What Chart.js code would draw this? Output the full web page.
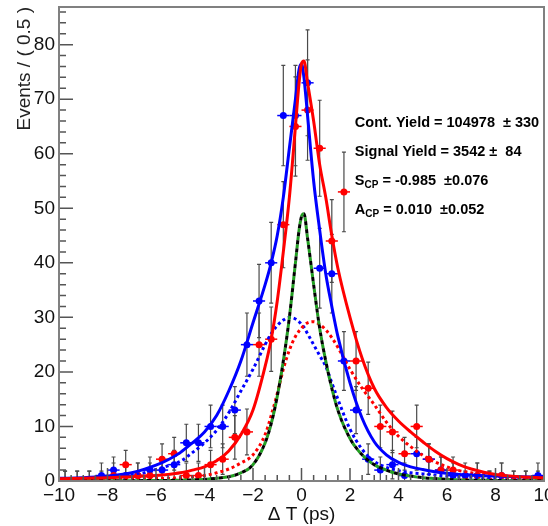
<!DOCTYPE html>
<html lang="en">
<head>
  <meta charset="UTF-8" />
  <title>Delta T fit</title>
  <style>
    * { margin: 0; padding: 0; box-sizing: border-box; }
    body { background: #fff; width: 548px; height: 526px; overflow: hidden; }
    #plot { display: block; }
  </style>
  <script src="https://cdn.jsdelivr.net/npm/chart.js"></script>
</head>
<body>
  <canvas id="plot" width="548" height="526"></canvas>

  <script>
    // binned data, bin width 0.5 ps
    const binWidth = 0.5;
    const binCenters = [-9.75, -9.25, -8.75, -8.25, -7.75, -7.25, -6.75, -6.25, -5.75, -5.25,
                        -4.75, -4.25, -3.75, -3.25, -2.75, -2.25, -1.75, -1.25, -0.75, -0.25,
                         0.25,  0.75,  1.25,  1.75,  2.25,  2.75,  3.25,  3.75,  4.25,  4.75,
                         5.25,  5.75,  6.25,  6.75,  7.25,  7.75,  8.25,  8.75,  9.25,  9.75];
    const blueCounts = [0, 0, 0, 1, 2, 1, 1, 2, 2, 3,
                        7, 7, 10, 10, 13, 25, 33, 40, 67, 67,
                        73, 39, 38, 22, 13, 4, 2, 3, 1, 5,
                        4, 2, 1, 1, 1, 0, 1, 0, 0, 1];
    const blueErrors = [1.8, 1.8, 1.8, 2.3, 2.4, 2.3, 2.3, 2.4, 2.4, 2.6,
                        3.4, 3.4, 3.9, 3.9, 4.3, 5.8, 6.7, 7.4, 9.2, 9.2,
                        9.7, 7.3, 7.2, 5.4, 4.3, 2.8, 2.4, 2.6, 2.3, 3.0,
                        2.8, 2.4, 2.3, 2.3, 2.3, 1.8, 2.3, 1.8, 1.8, 2.3];
    const redCounts = [0, 0, 0, 0, 1, 3, 1, 1, 4, 5,
                       1, 1, 3, 4, 8, 9, 25, 26, 47, 65,
                       68, 61, 44, 53, 22, 17, 10, 9, 5, 10,
                       4, 2, 2, 0, 1, 0, 1, 0, 0, 0];
    const redErrors = [1.8, 1.8, 1.8, 1.8, 2.3, 2.6, 2.3, 2.3, 2.8, 3.0,
                       2.3, 2.3, 2.6, 2.8, 4.0, 4.2, 5.8, 5.9, 7.9, 9.1,
                       9.2, 8.8, 7.6, 7.3, 5.4, 4.8, 3.9, 3.8, 3.0, 3.9,
                       2.8, 2.4, 2.4, 1.8, 2.3, 1.8, 2.3, 1.8, 1.8, 1.8];

    // fit curves
    const curveX = [-10, -9, -8, -7, -6, -5.5, -5, -4.5, -4, -3.5, -3, -2.5, -2, -1.5, -1.25, -1, -0.75, -0.5, -0.25, -0.1,
                    0, 0.1, 0.25, 0.5, 0.75, 1, 1.25, 1.5, 2, 2.5, 3, 3.5, 4, 4.5, 5, 5.5, 6, 6.5, 7, 8, 9, 10];
    const blueFit = [0.5, 0.6, 0.9, 1.5, 2.9, 3.9, 5.2, 7, 9, 12, 16.5, 22, 29, 36, 40, 45, 52, 61, 70, 75.5,
                     76.5, 74, 67, 55, 46, 38, 32, 26.5, 18, 11.5, 7.2, 4.8, 3.4, 2.6, 2.1, 1.7, 1.4, 1.2, 1.1, 0.9, 0.8, 0.7];
    const redFit = [0.4, 0.5, 0.6, 0.8, 1.0, 1.2, 1.5, 2.0, 2.6, 3.7, 5.5, 8.5, 13, 21, 26, 33, 42, 52, 65, 73,
                    76.5, 77, 73, 66, 58, 52, 45, 39, 30, 22.5, 17, 13.5, 11, 9, 7.2, 5.5, 4.1, 3.0, 2.2, 1.2, 0.8, 0.6];
    const blueComp = [0.3, 0.4, 0.6, 1.0, 2.1, 2.8, 3.6, 5.2, 7, 9.3, 12.5, 16.5, 20.5, 25, 27, 28.5, 29.5, 30, 29.7, 29.2,
                      28.7, 28.2, 27, 25, 23, 21, 18, 15, 9.5, 5.8, 3.6, 2.5, 1.9, 1.5, 1.3, 1.1, 0.9, 0.8, 0.7, 0.5, 0.4, 0.3];
    const redComp = [0.2, 0.25, 0.3, 0.35, 0.45, 0.5, 0.6, 0.8, 1.0, 1.5, 2.2, 3.3, 4.8, 8.5, 12, 16, 20.5, 24, 26.5, 27.5,
                     28, 28.5, 29, 29.2, 28.7, 27.7, 26.3, 24.5, 20.5, 17, 14, 10.8, 8.2, 6.3, 4.7, 3.5, 2.6, 1.9, 1.5, 0.9, 0.5, 0.3];
    const greenComp = [0.05, 0.05, 0.05, 0.05, 0.1, 0.1, 0.15, 0.2, 0.3, 0.5, 0.8, 1.5, 3, 7, 10.5, 15.5, 22, 30, 40, 46,
                       48.5, 49, 44.5, 36, 28, 22, 17, 13, 7.8, 4.8, 3.0, 2.0, 1.3, 0.9, 0.6, 0.45, 0.3, 0.2, 0.15, 0.1, 0.05, 0.05];

    const xTickStep = 2;
    const yTickStep = 10;
    const fitLines = [
      ['Cont. Yield = 104978  \u00b1 330', ''],
      ['Signal Yield = 3542 \u00b1  84', ''],
      ['S', 'CP', ' = -0.985  \u00b10.076'],
      ['A', 'CP', ' = 0.010  \u00b10.052']
    ];

    const BLUE = '#0000ff';
    const RED = '#ff0000';
    const GREEN = '#22a022';
    const FONT = '"Liberation Sans", Arial, Helvetica, sans-serif';

    const toXY = (xs, ys) => xs.map((x, i) => ({ x: x, y: ys[i] }));
    const minus = v => String(v).replace('-', '\u2212');

    function curve(ys, color, dash, width, offset) {
      return {
        data: toXY(curveX, ys),
        showLine: true,
        borderColor: color,
        borderWidth: width,
        borderDash: dash || [],
        borderDashOffset: offset || 0,
        pointRadius: 0,
        cubicInterpolationMode: 'monotone',
        fill: false
      };
    }

    // error bars, frame, inward ticks and the fit text
    const decorations = {
      id: 'decorations',
      beforeDatasetsDraw(chart) {
        const c = chart.ctx, xs = chart.scales.x, ys = chart.scales.y;
        const drawBars = (counts, errors, color) => {
          counts.forEach((n, i) => {
            const px = xs.getPixelForValue(binCenters[i]);
            const lo = ys.getPixelForValue(Math.max(0, n - errors[i]));
            const hi = ys.getPixelForValue(n + errors[i]);
            c.strokeStyle = '#4a4a4a';
            c.lineWidth = 1.2;
            c.beginPath();
            c.moveTo(px, lo); c.lineTo(px, hi);
            c.moveTo(px - 2, hi); c.lineTo(px + 2, hi);
            if (n - errors[i] > 0) { c.moveTo(px - 2, lo); c.lineTo(px + 2, lo); }
            c.stroke();
            c.strokeStyle = color;
            c.lineWidth = 1.5;
            c.beginPath();
            const py = ys.getPixelForValue(n);
            c.moveTo(xs.getPixelForValue(binCenters[i] - binWidth / 2), py);
            c.lineTo(xs.getPixelForValue(binCenters[i] + binWidth / 2), py);
            c.stroke();
          });
        };
        c.save();
        drawBars(redCounts, redErrors, RED);
        drawBars(blueCounts, blueErrors, BLUE);
        c.restore();
      },
      afterDraw(chart) {
        const c = chart.ctx, a = chart.chartArea, xs = chart.scales.x, ys = chart.scales.y;
        c.save();
        // ticks pointing inside
        c.strokeStyle = '#555';
        c.lineWidth = 1.5;
        c.beginPath();
        for (let v = xs.min; v <= xs.max + 1e-9; v += binWidth) {
          const px = xs.getPixelForValue(v);
          const len = Math.abs(v / xTickStep - Math.round(v / xTickStep)) < 1e-6 ? 13 : 6;
          c.moveTo(px, a.bottom); c.lineTo(px, a.bottom - len);
        }
        for (let v = 0; v <= ys.max; v += 2) {
          const py = ys.getPixelForValue(v);
          const len = v % yTickStep === 0 ? 14 : 7;
          c.moveTo(a.left, py); c.lineTo(a.left + len, py);
        }
        c.stroke();
        // frame
        c.strokeStyle = '#808080';
        c.lineWidth = 2;
        c.strokeRect(a.left, a.top, a.right - a.left, a.bottom - a.top);
        // fit results
        c.fillStyle = '#000';
        c.textBaseline = 'middle';
        const tx = xs.getPixelForValue(2.2);
        fitLines.forEach((parts, i) => {
          const ty = ys.getPixelForValue(65.6 - i * 5.3);
          let x = tx;
          c.font = 'bold 14.5px ' + FONT;
          c.fillText(parts[0], x, ty);
          x += c.measureText(parts[0]).width;
          if (parts[1]) {
            c.font = 'bold 10px ' + FONT;
            c.fillText(parts[1], x, ty + 4);
            x += c.measureText(parts[1]).width;
            c.font = 'bold 14.5px ' + FONT;
            c.fillText(parts[2], x, ty);
          }
        });
        c.restore();
      }
    };

    const ctx = document.getElementById('plot').getContext('2d');
    new Chart(ctx, {
      type: 'scatter',
      data: {
        datasets: [
          curve(redFit, RED, null, 3),
          curve(blueFit, BLUE, null, 3),
          curve(greenComp, '#000', [4, 4], 3, 0),
          curve(greenComp, GREEN, [4, 4], 3, 4),
          curve(redComp, RED, [3, 3], 3),
          curve(blueComp, BLUE, [3, 3], 3),
          {
            data: toXY(binCenters, redCounts),
            pointRadius: 3.5,
            pointBackgroundColor: RED,
            pointBorderWidth: 0,
            order: 5
          },
          {
            data: toXY(binCenters, blueCounts),
            pointRadius: 3.5,
            pointBackgroundColor: BLUE,
            pointBorderWidth: 0,
            order: 5
          }
        ]
      },
      options: {
        responsive: false,
        animation: false,
        events: [],
        layout: { padding: { top: 7, right: 4, left: 0, bottom: 0 } },
        plugins: { legend: { display: false }, tooltip: { enabled: false } },
        scales: {
          x: {
            type: 'linear',
            min: -10,
            max: 10,
            afterFit: s => { s.height = 45; s.paddingLeft = 0; s.paddingRight = 0; },
            grid: { display: false, drawTicks: false },
            border: { display: false },
            ticks: {
              stepSize: xTickStep,
              padding: 3,
              color: '#111',
              font: { family: FONT, size: 19 },
              callback: v => minus(v)
            },
            title: {
              display: true,
              text: '\u0394 T (ps)',
              color: '#111',
              font: { family: FONT, size: 19 },
              padding: { top: 0, bottom: 0 }
            }
          },
          y: {
            type: 'linear',
            min: 0,
            max: 86.9,
            afterFit: s => { s.width = 59; s.paddingTop = 0; s.paddingBottom = 0; },
            grid: { display: false, drawTicks: false },
            border: { display: false },
            ticks: {
              stepSize: yTickStep,
              includeBounds: false,
              padding: 4,
              color: '#111',
              font: { family: FONT, size: 19 }
            },
            title: {
              display: true,
              text: 'Events / ( 0.5 )',
              align: 'end',
              color: '#222',
              font: { family: FONT, size: 19 },
              padding: { top: 13, bottom: 0 }
            }
          }
        }
      },
      plugins: [decorations]
    });
  </script>
</body>
</html>
